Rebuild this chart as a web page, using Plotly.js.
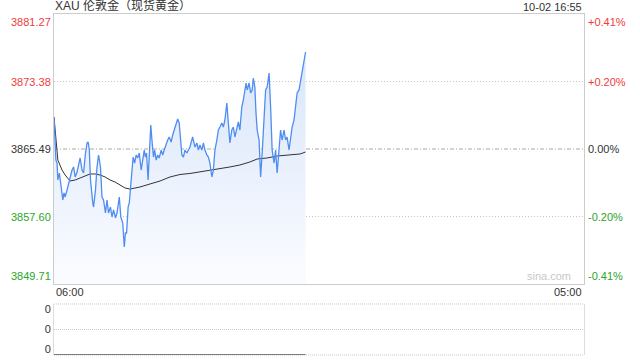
<!DOCTYPE html>
<html><head><meta charset="utf-8">
<script src="https://cdn.plot.ly/plotly-3.0.1.min.js"></script>
<style>html,body{margin:0;padding:0;background:#fff}#chart{width:640px;height:360px}</style>
</head><body><div id="chart"></div>
<script>
const chartTitle = "XAU 伦敦金（现货黄金）";
const stamp = "10-02 16:55";
const watermark = "sina.com";
const prevClose = 3865.49;
const yTicks = [3881.27, 3873.38, 3865.49, 3857.60, 3849.71];
const yTickText = ["3881.27", "3873.38", "3865.49", "3857.60", "3849.71"];
const pctText = ["+0.41%", "+0.20%", "0.00%", "-0.20%", "-0.41%"];
const xTickText = ["06:00", "05:00"];
const sessionMinutes = 1380; // 06:00 -> 05:00 next day
const volTickText = ["0", "0", "0"];

// minutes after 06:00
const priceMin = [0,5,8,10,14,19,23,26,29,34,38,42,47,51,55,60,64,68,73,77,82,86,89,92,95,97,101,103,108,112,116,121,125,129,134,138,142,147,151,155,160,164,170,174,179,183,186,189,193,196,200,203,206,210,214,218,222,227,231,235,238,241,245,248,252,255,259,262,266,270,274,279,283,287,292,296,300,305,309,313,318,322,326,331,333,337,341,346,350,354,361,367,372,376,380,385,389,393,398,402,406,411,415,419,424,428,432,437,441,445,450,454,458,463,467,471,476,480,484,489,493,497,500,503,508,512,516,519,523,526,529,534,538,542,547,551,555,560,564,568,573,577,581,586,590,594,599,603,607,612,616,620,625,629,633,638,642,647,651,655];
const price = [3869.23,3864.20,3863.85,3861.87,3862.68,3860.70,3859.53,3860.35,3859.88,3860.70,3861.51,3862.22,3863.03,3863.39,3862.22,3862.80,3863.85,3864.44,3863.03,3862.68,3865.02,3866.19,3866.31,3865.37,3861.87,3860.70,3859.18,3858.71,3860.70,3863.39,3864.79,3863.39,3859.88,3859.53,3858.01,3859.53,3858.01,3858.71,3857.54,3858.36,3857.43,3858.01,3859.88,3857.54,3856.84,3854.03,3855.67,3855.67,3858.71,3859.18,3861.51,3863.39,3864.55,3863.85,3864.79,3864.44,3865.02,3863.03,3864.20,3865.37,3864.55,3865.02,3861.87,3865.02,3868.30,3866.54,3864.55,3865.37,3864.20,3864.79,3864.44,3865.37,3864.79,3865.37,3866.19,3866.54,3866.89,3866.31,3867.13,3867.71,3868.65,3869.00,3868.53,3866.19,3864.79,3864.55,3865.37,3865.02,3865.37,3865.72,3866.89,3865.72,3866.19,3865.37,3865.96,3865.37,3866.19,3865.37,3864.79,3864.55,3863.85,3862.22,3863.03,3865.37,3866.54,3867.71,3868.06,3868.53,3868.06,3868.88,3870.87,3868.53,3866.19,3867.71,3868.06,3866.89,3868.06,3868.65,3867.71,3870.40,3871.22,3872.39,3873.20,3872.39,3873.20,3872.04,3872.39,3873.79,3872.74,3869.70,3867.71,3866.54,3862.22,3865.02,3868.53,3872.39,3872.74,3874.37,3870.40,3865.37,3863.85,3865.37,3862.68,3865.02,3867.71,3866.54,3867.71,3866.54,3866.89,3865.37,3866.89,3868.06,3868.88,3870.40,3872.04,3872.39,3873.56,3875.07,3875.89,3876.83];

const avgMin = [0,5,10,21,29,42,55,68,81,94,107,120,133,146,159,172,185,198,224,250,276,302,328,354,380,406,432,458,484,510,529,555,581,615,641,655];
const avgPrice = [3869.23,3866.54,3864.20,3863.03,3862.45,3861.75,3861.87,3862.10,3862.33,3862.57,3862.57,3862.45,3862.22,3861.87,3861.63,3861.28,3860.93,3860.81,3861.05,3861.40,3861.75,3862.22,3862.51,3862.63,3862.80,3862.98,3863.21,3863.39,3863.62,3863.97,3864.32,3864.44,3864.67,3864.79,3864.91,3865.14];

const volMin = [0, 655];
const volume = [0, 0];

const RED = "#f03c3c", GREEN = "#2aa52a", DARK = "#333333";
const FONT = "Arial, 'Liberation Sans', 'Noto Sans CJK SC', sans-serif";
const tickColor = v => v > prevClose + 1e-9 ? RED : (v < prevClose - 1e-9 ? GREEN : DARK);

const traces = [
  {x: priceMin, y: price, xaxis: "x", yaxis: "y", type: "scatter", mode: "lines",
   line: {width: 0, color: "rgba(0,0,0,0)"}, fill: "tozeroy",
   fillgradient: {type: "vertical", start: yTicks[4], stop: 3877,
     colorscale: [[0, "#fbfcff"], [1, "#d8e5fa"]]},
   hoverinfo: "skip", showlegend: false},
  {x: avgMin, y: avgPrice, xaxis: "x", yaxis: "y", type: "scatter", mode: "lines",
   line: {width: 1, color: "#333"}, showlegend: false},
  {x: priceMin, y: price, xaxis: "x", yaxis: "y", type: "scatter", mode: "lines",
   line: {width: 1.3, color: "#4f8df0"}, showlegend: false},
  {x: volMin, y: volume, xaxis: "x2", yaxis: "y2", type: "scatter", mode: "lines",
   line: {width: 1.5, color: "#555"}, showlegend: false, cliponaxis: false}
];

const annotations = [];
annotations.push({text: chartTitle, xref: "paper", yref: "paper", x: 0, y: 1, xanchor: "left", yanchor: "bottom",
  showarrow: false, font: {family: FONT, size: 12, color: DARK}, xshift: -1, yshift: -1});
annotations.push({text: stamp, xref: "paper", yref: "paper", x: 1, y: 1, xanchor: "right", yanchor: "bottom",
  showarrow: false, font: {family: FONT, size: 11, color: DARK}, yshift: -1});
yTicks.forEach((v, i) => {
  const ya = i === 0 ? "top" : (i === yTicks.length - 1 ? "bottom" : "middle");
  annotations.push({text: yTickText[i], xref: "paper", yref: "y", x: 0, y: v, xanchor: "right", yanchor: ya,
    showarrow: false, xshift: -1, font: {family: FONT, size: 11, color: tickColor(v)}});
  annotations.push({text: pctText[i], xref: "paper", yref: "y", x: 1, y: v, xanchor: "left", yanchor: ya,
    showarrow: false, xshift: 2, font: {family: FONT, size: 11, color: tickColor(v)}});
});
annotations.push({text: xTickText[0], xref: "x", yref: "paper", x: 0, y: 0.2082, xanchor: "left", yanchor: "top",
  showarrow: false, font: {family: FONT, size: 11, color: DARK}});
annotations.push({text: xTickText[1], xref: "x", yref: "paper", x: sessionMinutes, y: 0.2082, xanchor: "right", yanchor: "top",
  showarrow: false, font: {family: FONT, size: 11, color: DARK}});
annotations.push({text: watermark, xref: "paper", yref: "paper", x: 0.98, y: 0.2082, xanchor: "right", yanchor: "bottom",
  showarrow: false, font: {family: FONT, size: 11, color: "#c8c8c8"}});

const shapes = [
  {type: "line", xref: "x domain", yref: "y", x0: 0, x1: 1, y0: yTicks[1], y1: yTicks[1], line: {color: "#c8c8c8", width: 1, dash: "1px,2px"}, layer: "below"},
  {type: "line", xref: "x domain", yref: "y", x0: 0, x1: 1, y0: yTicks[2], y1: yTicks[2], line: {color: "#a8a8a8", width: 1, dash: "4px,2px,1px,2px"}, layer: "below"},
  {type: "line", xref: "x domain", yref: "y", x0: 0, x1: 1, y0: yTicks[3], y1: yTicks[3], line: {color: "#c8c8c8", width: 1, dash: "1px,2px"}, layer: "below"},
  {type: "line", xref: "x2 domain", yref: "y2 domain", x0: 0, x1: 1, y0: 1, y1: 1, line: {color: "#c8c8c8", width: 1, dash: "1px,1px"}},
  {type: "line", xref: "x2 domain", yref: "y2 domain", x0: 0, x1: 1, y0: 0.5, y1: 0.5, line: {color: "#c8c8c8", width: 1, dash: "1px,1px"}},
  {type: "line", xref: "x2 domain", yref: "y2 domain", x0: 0, x1: 1, y0: 0, y1: 0, line: {color: "#c8c8c8", width: 1, dash: "1px,1px"}, layer: "below"}
];

const layout = {
  width: 640, height: 360,
  margin: {l: 54, r: 56, t: 14, b: 5},
  paper_bgcolor: "#fff", plot_bgcolor: "rgba(0,0,0,0)",
  font: {family: FONT, size: 11, color: DARK},
  showlegend: false,
  xaxis: {domain: [0, 1], range: [0, sessionMinutes], anchor: "y", showticklabels: false, ticks: "",
    showgrid: false, zeroline: false, showline: true, mirror: true, linecolor: "#cccccc", linewidth: 1, fixedrange: true},
  yaxis: {domain: [0.2082, 1], range: [yTicks[4], yTicks[0]], anchor: "x", showticklabels: false, ticks: "",
    showgrid: false, zeroline: false, showline: true, mirror: true, linecolor: "#cccccc", linewidth: 1, fixedrange: true},
  xaxis2: {domain: [0, 1], range: [0, sessionMinutes], anchor: "y2", showticklabels: false, ticks: "",
    showgrid: false, zeroline: false, showline: false, fixedrange: true},
  yaxis2: {domain: [0, 0.1496], range: [0, 2], anchor: "x2", tickvals: [1.8, 1, 0.24], ticktext: volTickText,
    ticks: "", showgrid: false, zeroline: false, showline: true, mirror: true, linecolor: "#dddddd", linewidth: 1,
    tickfont: {family: FONT, size: 11, color: DARK}, fixedrange: true},
  annotations: annotations,
  shapes: shapes
};

Plotly.newPlot("chart", traces, layout, {staticPlot: true, displayModeBar: false});
</script>
</body></html>
